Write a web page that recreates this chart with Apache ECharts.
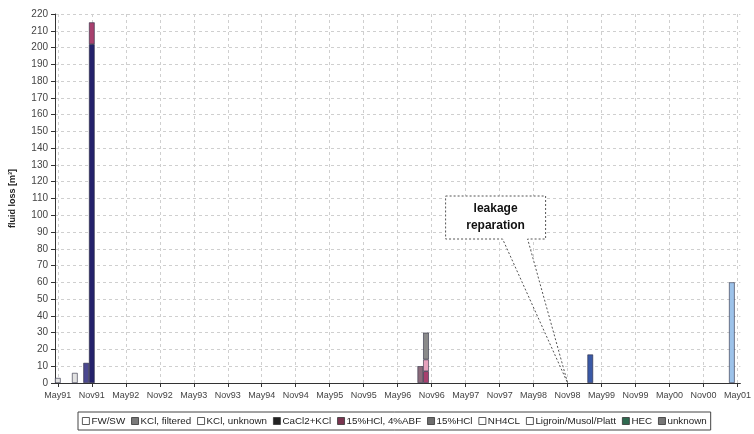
<!DOCTYPE html>
<html>
<head>
<meta charset="utf-8">
<script src="https://cdn.jsdelivr.net/npm/echarts@6/dist/echarts.min.js"></script>
<style>
html,body{margin:0;padding:0;background:#fff;}
#chart{width:754px;height:434px;}
</style>
</head>
<body>
<div id="chart"></div>
<script>
// ---- data ----
const monthNames = ['Jan','Feb','Mar','Apr','May','Jun','Jul','Aug','Sep','Oct','Nov','Dec'];
const startYear = 1991, startMonth = 4;   // May 1991
const monthCount = 121;                   // through May 2001
const tickLabels = ['May91','Nov91','May92','Nov92','May93','Nov93','May94','Nov94','May95','Nov95',
  'May96','Nov96','May97','Nov97','May98','Nov98','May99','Nov99','May00','Nov00','May01'];

const seriesNames = ['FW/SW','KCl, filtered','KCl, unknown','CaCl2+KCl','15%HCl, 4%ABF','15%HCl','NH4CL','Ligroin/Musol/Platt','HEC','unknown'];
// sparse values [month, m3]
const fwSw        = [['May91', 3], ['Aug91', 6]];
const kclFiltered = [['Oct91', 12]];
const kclUnknown  = [['Apr01', 60]];
const cacl2Kcl    = [['Nov91', 202]];
const hcl15Abf    = [['Nov91', 13], ['Oct96', 7]];
const hcl15       = [['Sep96', 10]];
const nh4cl       = [['Oct96', 7]];
const ligroin     = [['Mar99', 17]];
const hec         = [];
const unknownFl   = [['Oct96', 16]];

const annotationText = 'leakage\nreparation';
const annotationTarget = ['Nov98', 0];

// ---- build categories ----
const months = [];
for (let i = 0; i < monthCount; i++) {
  const m = (startMonth + i) % 12;
  const y = startYear + Math.floor((startMonth + i) / 12);
  months.push(monthNames[m] + String(y % 100).padStart(2, '0'));
}
function dense(records) {
  const arr = months.map(() => '-');
  records.forEach(([k, v]) => { arr[months.indexOf(k)] = v; });
  return arr;
}
const seriesData = [fwSw, kclFiltered, kclUnknown, cacl2Kcl, hcl15Abf, hcl15, nh4cl, ligroin, hec, unknownFl];
const barColors = ['#e2e2e2','#4b4890','#9dc3ea','#24216b','#a8406e','#8b6b7b','#e6a2bd','#3a59a6','#2f6a50','#8a8a8a'];
const legendColors = ['#ffffff','#7a7a7a','#ffffff','#222222','#7a3550','#6e6e6e','#ffffff','#ffffff','#2f6a50','#777777'];

const font = '"Liberation Sans", Arial, sans-serif';

const chart = echarts.init(document.getElementById('chart'), null, {renderer: 'canvas'});
const option = {
  animation: false,
  backgroundColor: '#fff',
  grid: {left: 55, right: 4, top: 14, bottom: 51, containLabel: false},
  xAxis: {
    type: 'category',
    data: months,
    boundaryGap: true,
    axisLine: {lineStyle: {color: '#333', width: 1}},
    axisTick: {show: true, interval: 5, alignWithLabel: true, length: 4, lineStyle: {color: '#333'}},
    axisLabel: {
      interval: 5, color: '#444', fontSize: 9, fontFamily: font, margin: 8,
      formatter: (v) => tickLabels.includes(v) ? v : ''
    },
    splitLine: {show: true, interval: 5, alignWithLabel: true, lineStyle: {color: '#cfcfcf', type: [3, 3], width: 1}}
  },
  yAxis: {
    type: 'value',
    min: 0, max: 220, interval: 10,
    name: 'fluid loss [m³]',
    nameLocation: 'middle',
    nameGap: 38,
    nameTextStyle: {fontSize: 9, fontWeight: 'bold', color: '#222', fontFamily: font},
    axisLine: {show: true, lineStyle: {color: '#333'}},
    axisTick: {show: true, length: 4, lineStyle: {color: '#333'}},
    axisLabel: {color: '#444', fontSize: 10, fontFamily: font, margin: 7},
    splitLine: {show: true, lineStyle: {color: '#cfcfcf', type: [3, 3], width: 1}}
  },
  legend: {
    left: 78, top: 412,
    orient: 'horizontal',
    itemWidth: 7, itemHeight: 7, itemGap: 6,
    padding: [4, 4, 4, 4],
    borderColor: '#444', borderWidth: 1, borderRadius: 0,
    icon: 'rect',
    textStyle: {fontSize: 9.8, color: '#222', fontFamily: font, padding: [0, 0, 0, -3]},
    data: seriesNames.map((n, i) => ({name: n, itemStyle: {color: legendColors[i], borderColor: '#333', borderWidth: 0.8}}))
  },
  series: seriesNames.map((n, i) => ({
    name: n,
    type: 'bar',
    stack: 'total',
    data: dense(seriesData[i]),
    barCategoryGap: '0%',
    itemStyle: {color: barColors[i], borderColor: '#2a2a40', borderWidth: 0.6}
  }))
};
chart.setOption(option);

// annotation callout
const tip = chart.convertToPixel({xAxisIndex: 0, yAxisIndex: 0}, annotationTarget);
const bx = tip[0] - 122, by = tip[1] - 187, bw = 100, bh = 43;
chart.setOption({
  graphic: [
    {
      type: 'polygon',
      shape: {points: [
        [bx, by], [bx + bw, by], [bx + bw, by + bh], [bx + 82, by + bh],
        tip, [bx + 57, by + bh], [bx, by + bh]
      ]},
      style: {fill: '#fff', stroke: '#555', lineWidth: 1, lineDash: [2, 2]},
      z: 100
    },
    {
      type: 'text',
      x: bx + bw / 2, y: by + bh / 2,
      style: {text: annotationText, fill: '#111', font: 'bold 12px ' + font, align: 'center', verticalAlign: 'middle', lineHeight: 17},
      z: 101
    }
  ]
});
</script>
</body>
</html>
